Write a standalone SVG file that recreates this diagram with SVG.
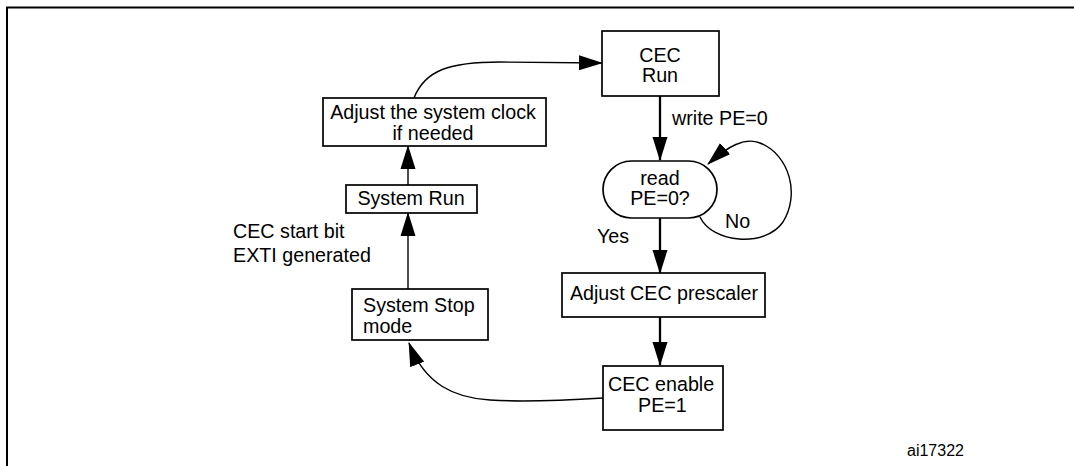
<svg xmlns="http://www.w3.org/2000/svg" width="1074" height="466" viewBox="0 0 1074 466">
<style>
.box{fill:#fff;stroke:#000;stroke-width:1.7}
.t{font-family:"Liberation Sans",Arial,sans-serif;font-size:19.7px;fill:#000}
.m{text-anchor:middle}
.c{fill:none;stroke:#000}
.thick{stroke-width:2.3}
.thin{stroke-width:1.4}
</style>
<defs>
<marker id="ah" markerUnits="userSpaceOnUse" markerWidth="24" markerHeight="16" refX="23" refY="8" orient="auto" viewBox="0 0 24 16">
<path d="M0,0.5 L24,8 L0,15.5 z" fill="#000"/>
</marker>
</defs>
<path d="M7,466 L7,7.5 L1074,7.5" fill="none" stroke="#000" stroke-width="2"/>
<g id="connectors">
<path class="c thin" d="M414,98 C425,70 450,62 500,62 L602,63" marker-end="url(#ah)"/>
<path class="c thick" d="M660,96 L660,160" marker-end="url(#ah)"/>
<path class="c thin" d="M700,217 C712,243 765,248 783,222 C800,195 790,155 760,143 C745,137 728,146 708,164" marker-end="url(#ah)"/>
<path class="c thick" d="M660,218 L660,273" marker-end="url(#ah)"/>
<path class="c thick" d="M660,317 L660,365" marker-end="url(#ah)"/>
<path class="c thin" d="M603,398 C555,401 520,402 490,400 C455,398 425,385 409,343" marker-end="url(#ah)"/>
<path class="c thin" d="M408,290 L408,213" marker-end="url(#ah)"/>
<path class="c thin" d="M408,185 L408,146" marker-end="url(#ah)"/>
</g>
<g id="cec-run">
<rect class="box" x="602" y="31" width="117" height="65"/>
<text class="t m" x="660" y="62">CEC</text>
<text class="t m" x="660" y="82">Run</text>
</g>
<g id="read-pe">
<rect class="box" x="603" y="161" width="114" height="57" rx="28.5" ry="28.5"/>
<text class="t m" x="660" y="185">read</text>
<text class="t m" x="660" y="205">PE=0?</text>
</g>
<g id="adjust-prescaler">
<rect class="box" x="562" y="273" width="203" height="44"/>
<text class="t m" x="664" y="300">Adjust CEC prescaler</text>
</g>
<g id="cec-enable">
<rect class="box" x="603" y="366" width="120" height="64"/>
<text class="t" x="608" y="391">CEC enable</text>
<text class="t" x="638" y="412">PE=1</text>
</g>
<g id="system-stop">
<rect class="box" x="352" y="289" width="136" height="51"/>
<text class="t" x="363" y="312">System Stop</text>
<text class="t" x="363" y="333">mode</text>
</g>
<g id="system-run">
<rect class="box" x="346" y="185" width="131" height="28"/>
<text class="t m" x="411" y="205">System Run</text>
</g>
<g id="adjust-clock">
<rect class="box" x="323" y="98" width="223" height="48"/>
<text class="t m" x="433" y="119">Adjust the system clock</text>
<text class="t m" x="433" y="140">if needed</text>
</g>
<g id="labels">
<text class="t" x="672" y="125">write PE=0</text>
<text class="t" x="725" y="228">No</text>
<text class="t" x="597" y="243">Yes</text>
<text class="t" x="233" y="238">CEC start bit</text>
<text class="t" x="233" y="262">EXTI generated</text>
<text class="t" x="907" y="456" style="font-size:16px">ai17322</text>
</g>
</svg>
